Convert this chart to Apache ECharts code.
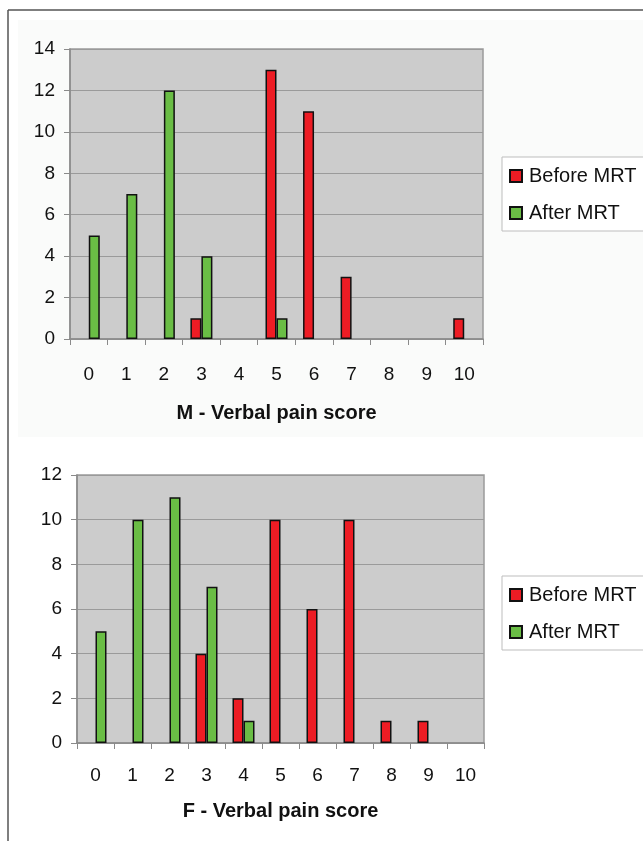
<!DOCTYPE html>
<html>
<head>
<meta charset="utf-8">
<script src="https://cdn.jsdelivr.net/npm/echarts@6/dist/echarts.min.js"></script>
<style>
html,body{margin:0;padding:0;background:#fff;}
#chart{width:643px;height:841px;}
</style>
</head>
<body>
<div id="chart"></div>
<script>
var categories = ['0','1','2','3','4','5','6','7','8','9','10'];
var seriesNames = ['Before MRT','After MRT'];
var mBefore = [0,0,0,1,0,13,11,3,0,0,1];
var mAfter  = [5,7,12,4,0,1,0,0,0,0,0];
var fBefore = [0,0,0,4,2,10,6,10,1,1,0];
var fAfter  = [5,10,11,7,1,0,0,0,0,0,0];
var mTitle = 'M - Verbal pain score';
var fTitle = 'F - Verbal pain score';

var RED = '#ED1C24', GREEN = '#6ABD45';
var FONT = '"Liberation Sans", Arial, sans-serif';

function nz(a){ return a.map(function(v){ return v === 0 ? null : v; }); }

function bar(name, data, idx, color){
  return {
    name: name, type: 'bar', xAxisIndex: idx, yAxisIndex: idx,
    data: nz(data), barWidth: 11, barGap: '0%',
    itemStyle: {color: color, borderColor: '#111', borderWidth: 1.5},
    emphasis: {disabled: true}, animation: false
  };
}

function xAxis(idx, title, margin, gap){
  return {
    type: 'category', gridIndex: idx, data: categories,
    axisLine: {lineStyle: {color: '#8a8a8a', width: 1.5}},
    axisTick: {show: true, length: 6, lineStyle: {color: '#8a8a8a'}},
    axisLabel: {color: '#111', fontSize: 19, fontFamily: FONT, margin: margin},
    name: title, nameLocation: 'middle', nameGap: gap,
    nameTextStyle: {color: '#111', fontSize: 20, fontWeight: 'bold', fontFamily: FONT}
  };
}
function yAxis(idx, max){
  return {
    type: 'value', gridIndex: idx, min: 0, max: max, interval: 2,
    axisLine: {show: true, lineStyle: {color: '#8a8a8a', width: 1.5}},
    axisTick: {show: true, length: 6, lineStyle: {color: '#8a8a8a'}},
    axisLabel: {color: '#111', fontSize: 19, fontFamily: FONT, margin: 15},
    splitLine: {show: true, lineStyle: {color: '#9a9a9a', width: 1}}
  };
}
function legend(top){
  return {
    data: seriesNames, orient: 'vertical', left: 502, top: top,
    itemWidth: 12, itemHeight: 12, itemGap: 15,
    padding: [8, 60, 7, 7],
    borderColor: '#bdbdbd', borderWidth: 1, backgroundColor: '#fff',
    icon: 'rect',
    textStyle: {color: '#111', fontSize: 20, fontFamily: FONT, lineHeight: 22, padding: [0,0,0,2]},
    selectedMode: false
  };
}

var chart = echarts.init(document.getElementById('chart'), null, {renderer: 'canvas'});
chart.setOption({
  animation: false,
  backgroundColor: '#fff',
  graphic: [
    {type: 'rect', shape: {x: 18, y: 20, width: 625, height: 417}, style: {fill: '#fafbfa'}, z: -10},
    {type: 'line', shape: {x1: 8, y1: 10, x2: 643, y2: 10}, style: {stroke: '#555', lineWidth: 1.5}},
    {type: 'line', shape: {x1: 8, y1: 10, x2: 8, y2: 841}, style: {stroke: '#555', lineWidth: 1.5}}
  ],
  grid: [
    {left: 70, top: 49, width: 413, height: 290, show: true, backgroundColor: '#cccccc', borderColor: '#9a9a9a', borderWidth: 1.5},
    {left: 77, top: 475, width: 407, height: 268, show: true, backgroundColor: '#cccccc', borderColor: '#9a9a9a', borderWidth: 1.5}
  ],
  legend: [legend(157), legend(576)],
  xAxis: [xAxis(0, mTitle, 26, 64), xAxis(1, fTitle, 23, 58)],
  yAxis: [yAxis(0, 14), yAxis(1, 12)],
  series: [
    bar(seriesNames[0], mBefore, 0, RED),
    bar(seriesNames[1], mAfter, 0, GREEN),
    bar(seriesNames[0], fBefore, 1, RED),
    bar(seriesNames[1], fAfter, 1, GREEN)
  ]
});
</script>
</body>
</html>
